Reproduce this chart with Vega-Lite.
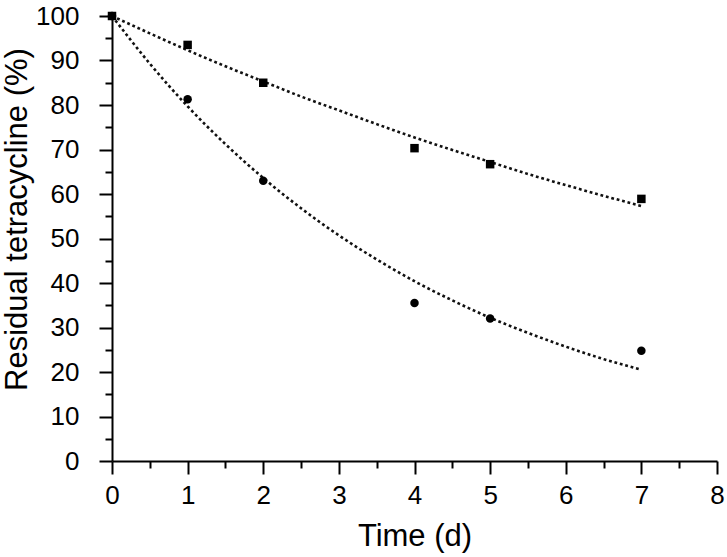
{
  "$schema": "https://vega.github.io/schema/vega-lite/v6.json",
  "width": 605,
  "height": 445,
  "autosize": {"type": "none"},
  "padding": {"left": 112, "top": 16, "right": 10, "bottom": 96},
  "background": "white",
  "config": {
    "view": {"stroke": null},
    "font": "Liberation Sans",
    "axis": {
      "grid": false,
      "domainColor": "#000",
      "domainWidth": 2,
      "tickColor": "#000",
      "tickWidth": 2,
      "labelColor": "#000",
      "labelFontSize": 26,
      "labelFont": "Liberation Sans",
      "titleFont": "Liberation Sans",
      "titleFontSize": 31,
      "titleFontWeight": "normal",
      "titleColor": "#000",
      "labelFlush": false,
      "labelOverlap": false
    }
  },
  "datasets": {
    "points": [
      {"series": "B", "t": 0, "y": 100},
      {"series": "B", "t": 1, "y": 81.3},
      {"series": "B", "t": 2, "y": 63},
      {"series": "B", "t": 4, "y": 35.5},
      {"series": "B", "t": 5, "y": 32},
      {"series": "B", "t": 7, "y": 24.8},
      {"series": "A", "t": 0, "y": 100},
      {"series": "A", "t": 1, "y": 93.5},
      {"series": "A", "t": 2, "y": 85},
      {"series": "A", "t": 4, "y": 70.3},
      {"series": "A", "t": 5, "y": 66.7},
      {"series": "A", "t": 7, "y": 58.9}
    ],
    "fit": [
      {"series": "A", "t": 0, "y": 100},
      {"series": "A", "t": 0.5, "y": 96.1},
      {"series": "A", "t": 1, "y": 92.3},
      {"series": "A", "t": 1.5, "y": 88.7},
      {"series": "A", "t": 2, "y": 85.3},
      {"series": "A", "t": 2.5, "y": 81.9},
      {"series": "A", "t": 3, "y": 78.8},
      {"series": "A", "t": 3.5, "y": 75.7},
      {"series": "A", "t": 4, "y": 72.7},
      {"series": "A", "t": 4.5, "y": 69.9},
      {"series": "A", "t": 5, "y": 67.2},
      {"series": "A", "t": 5.5, "y": 64.5},
      {"series": "A", "t": 6, "y": 62.0},
      {"series": "A", "t": 6.5, "y": 59.6},
      {"series": "A", "t": 7, "y": 57.3},
      {"series": "B", "t": 0, "y": 100},
      {"series": "B", "t": 0.5, "y": 89.3},
      {"series": "B", "t": 1, "y": 79.7},
      {"series": "B", "t": 1.5, "y": 71.2},
      {"series": "B", "t": 2, "y": 63.6},
      {"series": "B", "t": 2.5, "y": 56.8},
      {"series": "B", "t": 3, "y": 50.7},
      {"series": "B", "t": 3.5, "y": 45.3},
      {"series": "B", "t": 4, "y": 40.4},
      {"series": "B", "t": 4.5, "y": 36.1},
      {"series": "B", "t": 5, "y": 32.2},
      {"series": "B", "t": 5.5, "y": 28.8},
      {"series": "B", "t": 6, "y": 25.7},
      {"series": "B", "t": 6.5, "y": 22.9},
      {"series": "B", "t": 7, "y": 20.5}
    ]
  },
  "encoding": {
    "x": {
      "field": "t",
      "type": "quantitative",
      "scale": {"domain": [0, 8], "nice": false, "zero": false},
      "axis": {
        "title": "Time (d)",
        "values": [0, 0.5, 1, 1.5, 2, 2.5, 3, 3.5, 4, 4.5, 5, 5.5, 6, 6.5, 7, 7.5, 8],
        "format": "~g",
        "labelExpr": "datum.value % 1 === 0 ? datum.label : ''",
        "tickSize": {"condition": {"test": "datum.value % 1 === 0", "value": 13}, "value": 7},
        "labelPadding": 8,
        "titleY": 84,
        "titleBaseline": "alphabetic"
      }
    },
    "y": {
      "field": "y",
      "type": "quantitative",
      "scale": {"domain": [0, 100], "nice": false},
      "axis": {
        "title": "Residual tetracycline (%)",
        "values": [0, 5, 10, 15, 20, 25, 30, 35, 40, 45, 50, 55, 60, 65, 70, 75, 80, 85, 90, 95, 100],
        "labelExpr": "datum.value % 10 === 0 ? datum.label : ''",
        "tickSize": {"condition": {"test": "datum.value % 10 === 0", "value": 13}, "value": 7},
        "labelPadding": 20,
        "titleAngle": -90,
        "titleX": -86,
        "titleY": 203,
        "titleAlign": "center",
        "titleBaseline": "alphabetic"
      }
    }
  },
  "layer": [
    {
      "data": {"name": "fit"},
      "mark": {"type": "line", "color": "#111", "strokeWidth": 2.6, "strokeDash": [2.8, 2.8], "interpolate": "monotone"},
      "encoding": {"detail": {"field": "series"}}
    },
    {
      "data": {"name": "points"},
      "mark": {"type": "point", "filled": true, "opacity": 1, "color": "#000", "size": 72},
      "encoding": {
        "shape": {"field": "series", "type": "nominal", "scale": {"domain": ["A", "B"], "range": ["square", "circle"]}, "legend": null}
      }
    }
  ]
}
